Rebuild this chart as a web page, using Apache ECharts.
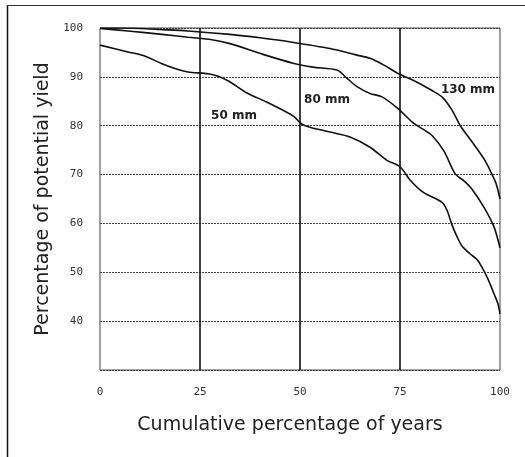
<!DOCTYPE html>
<html>
<head>
<meta charset="utf-8">
<script src="https://cdn.jsdelivr.net/npm/echarts@6/dist/echarts.min.js"></script>
<style>
html,body{margin:0;padding:0;background:#fff;}
#chart{width:525px;height:457px;}
</style>
</head>
<body>
<div id="chart"></div>
<script>
// Data
const xTicks = [0, 25, 50, 75, 100];
const yTicks = [40, 50, 60, 70, 80, 90, 100];

const x130 = [0, 5, 10, 15, 22, 32.5, 40, 48, 57.5, 64, 67.5, 71, 74.5, 79, 83, 85.5, 88, 90, 93, 96, 97.5, 99, 100];
const y130 = [100, 100, 99.9, 99.7, 99.4, 98.7, 98.0, 97.1, 95.8, 94.5, 93.8, 92.4, 90.7, 89.0, 87.2, 85.9, 83.2, 80.1, 76.7, 73.2, 70.9, 68.2, 65];

const x80 = [0, 7, 15.5, 22, 28, 32.5, 40.75, 48.25, 53.25, 59.25, 61.75, 64.25, 67.5, 70.5, 74.5, 78, 80.5, 83, 86, 88.75, 91, 93, 96, 98.5, 100];
const y80 = [99.9, 99.4, 98.7, 98.1, 97.6, 96.8, 94.6, 92.8, 92.0, 91.4, 89.7, 88.0, 86.6, 85.9, 83.5, 80.8, 79.4, 78.0, 74.8, 70.2, 68.7, 67.0, 63.3, 59.3, 55];

const x50 = [0, 7, 11, 15.5, 19.5, 22, 28, 32, 36.75, 41.75, 48.25, 50.5, 52.5, 57.5, 62.5, 67.5, 71.75, 75, 77.5, 80.75, 85.5, 86.75, 88, 89.25, 90.5, 92.5, 94.25, 95.5, 97, 98.5, 99.5, 100];
const y50 = [96.5, 95.1, 94.3, 92.7, 91.5, 91.0, 90.5, 89.2, 86.7, 84.8, 82.0, 80.3, 79.7, 78.7, 77.7, 75.6, 72.9, 71.6, 68.9, 66.4, 64.3, 62.7, 59.7, 57.3, 55.4, 53.8, 52.6, 51.0, 48.6, 45.6, 43.5, 41.5];

const seriesNames = ['130 mm', '80 mm', '50 mm'];
// label anchor points (data units)
const labelX = [92, 56.75, 33.5];
const labelY = [87.3, 85.3, 82.0];

function pairs(xs, ys) { return xs.map((x, i) => [x, ys[i]]); }
const seriesData = [pairs(x130, y130), pairs(x80, y80), pairs(x50, y50)];

const chart = echarts.init(document.getElementById('chart'), null, {renderer: 'canvas'});

const series = seriesData.map((d, i) => ({
  name: seriesNames[i],
  type: 'line',
  data: d,
  smooth: 0.3,
  showSymbol: false,
  lineStyle: {color: '#111', width: 1.6},
  z: 5,
  markPoint: {
    symbol: 'rect',
    symbolSize: 0,
    silent: true,
    data: [{coord: [labelX[i], labelY[i]], value: seriesNames[i]}],
    label: {
      show: true,
      position: 'inside',
      formatter: seriesNames[i],
      color: '#222',
      fontFamily: 'DejaVu Sans',
      fontSize: 12,
      fontWeight: 'bold'
    }
  }
}));

// vertical solid grid lines at 25, 50, 75
series.push({
  type: 'line',
  data: [],
  markLine: {
    silent: true,
    symbol: 'none',
    label: {show: false},
    lineStyle: {color: '#000', width: 1.5, type: 'solid'},
    data: xTicks.filter(v => v > 0 && v < 100).map(v => ({xAxis: v}))
  }
});

chart.setOption({
  animation: false,
  backgroundColor: '#fff',
  grid: {left: 100, right: 25, top: 28, bottom: 87, show: true, borderColor: '#444', borderWidth: 1},
  xAxis: {
    type: 'value', min: 0, max: 100, interval: 25,
    name: 'Cumulative percentage of years',
    nameLocation: 'middle', nameGap: 46,
    nameTextStyle: {fontFamily: 'DejaVu Sans', fontSize: 19, color: '#222', padding: [0, 20, 0, 0]},
    axisLine: {show: false}, axisTick: {show: false},
    splitLine: {show: false},
    axisLabel: {margin: 17, fontFamily: 'DejaVu Sans Mono', fontSize: 11, color: '#333',
      formatter: v => xTicks.includes(v) ? String(v) : ''}
  },
  yAxis: {
    type: 'value', min: 30, max: 100, interval: 10,
    name: 'Percentage of potential yield',
    nameLocation: 'middle', nameGap: 46,
    nameTextStyle: {fontFamily: 'DejaVu Sans', fontSize: 19, color: '#222'},
    axisLine: {show: false}, axisTick: {show: false},
    splitLine: {show: true, lineStyle: {color: '#444', width: 1, type: [2, 1]}},
    axisLabel: {margin: 17, fontFamily: 'DejaVu Sans Mono', fontSize: 11, color: '#333',
      formatter: v => yTicks.includes(v) ? String(v) : ''}
  },
  series: series,
  graphic: [
    {type: 'line', shape: {x1: 7.5, y1: 5, x2: 7.5, y2: 457}, style: {stroke: '#111', lineWidth: 1.5}, silent: true},
    {type: 'line', shape: {x1: 7, y1: 5.5, x2: 525, y2: 5.5}, style: {stroke: '#333', lineWidth: 1}, silent: true}
  ]
});
</script>
</body>
</html>
